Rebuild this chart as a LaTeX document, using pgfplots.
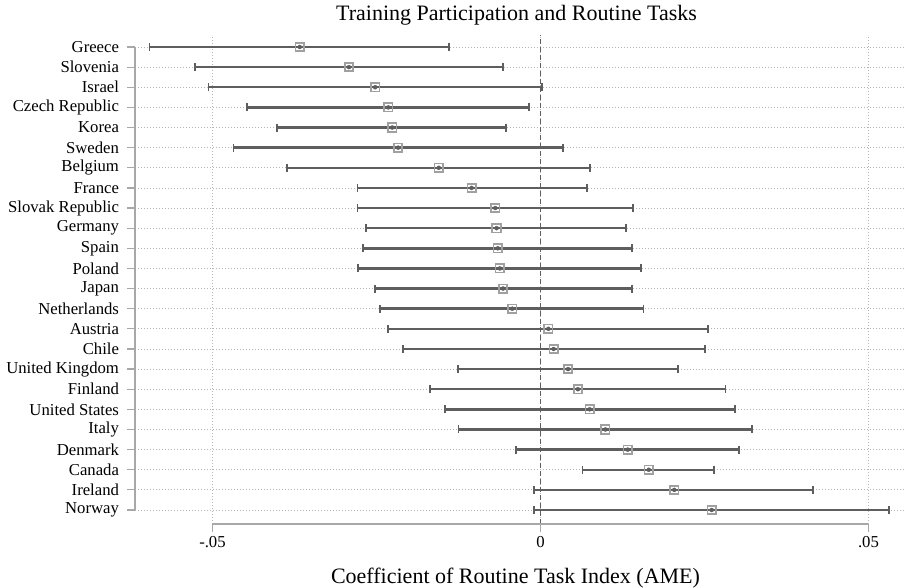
\documentclass[border=0pt]{standalone}
\usepackage{pgfplots}
\usepackage{pgfplotstable}
\pgfplotsset{compat=1.18}
\usepackage{fontspec}
\setmainfont{Liberation Serif}
\definecolor{barc}{HTML}{5E5E5E}
\definecolor{markc}{HTML}{A0A0A0}
\definecolor{axisc}{HTML}{A8A8A8}
\definecolor{gridc}{HTML}{B4B4B4}
\pgfplotstableread{
row est lo hi
24 -0.0367 -0.0596 -0.0139
23 -0.0292 -0.0526 -0.0057
22 -0.0252 -0.0506 0.0002
21 -0.0232 -0.0447 -0.0017
20 -0.0226 -0.0401 -0.0053
19 -0.0217 -0.0468 0.0035
18 -0.0155 -0.0386 0.0075
17 -0.0105 -0.0279 0.0071
16 -0.0069 -0.0279 0.0141
15 -0.0067 -0.0266 0.0131
14 -0.0065 -0.0270 0.0140
13 -0.0062 -0.0278 0.0153
12 -0.0057 -0.0252 0.0139
11 -0.0043 -0.0244 0.0157
10 0.0012 -0.0232 0.0255
9 0.0020 -0.0210 0.0251
8 0.0042 -0.0126 0.0210
7 0.0057 -0.0168 0.0282
6 0.0075 -0.0146 0.0297
5 0.0099 -0.0125 0.0323
4 0.0133 -0.0038 0.0303
3 0.0165 0.0064 0.0265
2 0.0204 -0.0010 0.0415
1 0.0261 -0.0010 0.0531
}\datatable
\begin{document}
\begin{tikzpicture}
\useasboundingbox (0,0) rectangle (906bp,588bp);
\begin{axis}[
  at={(135bp,64bp)}, anchor=south west,
  scale only axis, width=771bp, height=489bp,
  xmin=-0.06181, xmax=0.05572, ymin=0.305, ymax=24.596,
  axis line style={draw=none},
  clip=false,
  scaled x ticks=false,
  tick align=outside, xtick pos=bottom, ytick pos=left,
  major tick length=8bp,
  tick style={axisc, line width=1.2bp},
  xtick={-0.05,0,0.05}, xticklabels={-.05,0,.05},
  ytick={1,...,24},
  yticklabels={Norway,Ireland,Canada,Denmark,Italy,United States,Finland,United Kingdom,Chile,Austria,Netherlands,Japan,Poland,Spain,Germany,Slovak Republic,France,Belgium,Sweden,Korea,Czech Republic,Israel,Slovenia,Greece},
  ticklabel style={font=\fontsize{16.7bp}{19bp}\selectfont},
  yticklabel style={xshift=-4.5bp},
  xticklabel style={yshift=-1bp},
  xmajorgrids, ymajorgrids,
  major grid style={gridc, line width=0.8bp, dash pattern=on 0.8bp off 2.2bp},
  title={Training Participation and Routine Tasks},
  title style={font=\fontsize{22bp}{26bp}\selectfont, at={(axis description cs:0.5,1)}, anchor=base, yshift=9bp, xshift=-4bp},
  xlabel={Coefficient of Routine Task Index (AME)},
  xlabel style={font=\fontsize{22bp}{26bp}\selectfont, at={(axis description cs:0.5,0)}, anchor=base, yshift=-59bp, xshift=-5bp},
]
\draw[barc, line width=1.5bp, dash pattern=on 5bp off 3bp] (axis cs:0,0.305) -- (axis cs:0,24.596);
\draw[axisc, line width=1.2bp] (axis cs:-0.05,0.305) -- (axis cs:0.05,0.305);
\draw[axisc, line width=1.2bp] (axis cs:-0.06181,1) -- (axis cs:-0.06181,24);
\addplot[only marks, mark=none, color=barc,
  error bars/.cd, x dir=both, x explicit,
  error bar style={line width=2.4bp, barc},
  error mark options={line width=1.9bp, mark size=4bp, barc, rotate=90}]
  table[x=est, y=row, x error plus expr=\thisrow{hi}-\thisrow{est}, x error minus expr=\thisrow{est}-\thisrow{lo}]{\datatable};
\addplot[only marks, mark=square, mark size=4.2bp, mark options={draw=markc, line width=1.7bp, fill=none}]
  table[x=est, y=row]{\datatable};
\end{axis}
\end{tikzpicture}
\end{document}
